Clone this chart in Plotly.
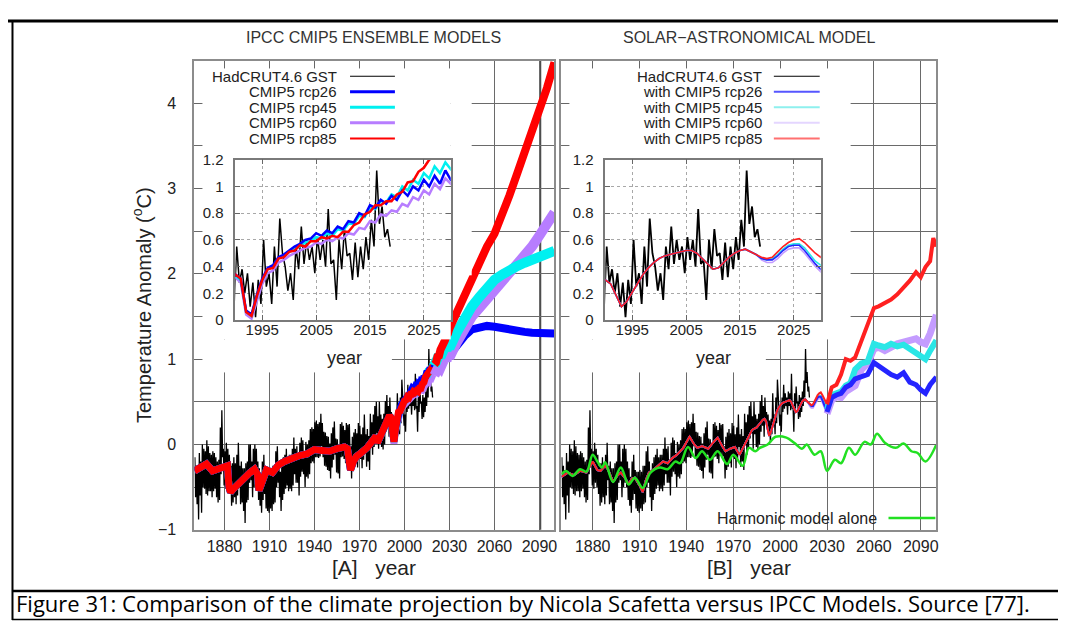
import plotly.graph_objects as go

W, H = 1066, 622
FONT = "Liberation Sans, Arial, sans-serif"

# ---------------- data ----------------
# HadCRUT4.6 monthly spread, read as a high and a low value per year
had_years = list(range(1860, 2019))
had_hi = [-0.15, -0.25, -0.30, -0.10, -0.20, 0.00, -0.05, -0.08, 0.05, -0.02,
          -0.10, -0.12, -0.08, -0.10, -0.15, -0.20, -0.18, 0.20, 0.40, -0.05,
          -0.08, 0.02, -0.05, -0.12, -0.25, -0.22, -0.15, -0.22, -0.12, 0.02,
          -0.25, -0.20, -0.28, -0.28, -0.22, -0.20, 0.00, 0.00, -0.20, -0.05,
          0.00, -0.05, -0.20, -0.28, -0.38, -0.20, -0.12, -0.30, -0.32, -0.32,
          -0.30, -0.32, -0.25, -0.25, -0.08, -0.02, -0.20, -0.32, -0.22, -0.15,
          -0.12, -0.05, -0.15, -0.12, -0.12, -0.05, 0.08, -0.05, -0.02, -0.18,
          0.02, 0.08, 0.05, -0.10, 0.03, 0.00, 0.05, 0.18, 0.20, 0.18,
          0.26, 0.28, 0.24, 0.26, 0.36, 0.25, 0.15, 0.14, 0.10, 0.09,
          0.01, 0.13, 0.20, 0.27, 0.07, 0.06, 0.00, 0.24, 0.26, 0.22,
          0.17, 0.25, 0.23, 0.24, -0.02, 0.09, 0.14, 0.18, 0.13, 0.25,
          0.22, 0.12, 0.20, 0.35, 0.12, 0.18, 0.10, 0.36, 0.26, 0.35,
          0.45, 0.50, 0.33, 0.50, 0.35, 0.30, 0.36, 0.51, 0.58, 0.45,
          0.55, 0.38, 0.35, 0.28, 0.30, 0.60, 0.35, 0.55, 0.76, 0.40,
          0.35, 0.55, 0.70, 0.60, 0.55, 0.62, 0.60, 0.83, 0.45, 0.60,
          0.68, 0.50, 0.58, 0.55, 0.62, 0.75, 1.12, 0.85, 0.68]
had_lo = [-0.62, -0.70, -0.88, -0.60, -0.80, -0.50, -0.52, -0.58, -0.60, -0.55,
          -0.55, -0.62, -0.55, -0.52, -0.62, -0.68, -0.65, -0.35, -0.15, -0.48,
          -0.52, -0.45, -0.50, -0.58, -0.72, -0.68, -0.62, -0.70, -0.60, -0.42,
          -0.70, -0.68, -0.78, -0.92, -0.68, -0.65, -0.45, -0.42, -0.62, -0.50,
          -0.45, -0.50, -0.65, -0.72, -0.80, -0.65, -0.58, -0.75, -0.78, -0.80,
          -0.75, -0.78, -0.70, -0.68, -0.50, -0.45, -0.62, -0.78, -0.65, -0.58,
          -0.52, -0.48, -0.55, -0.52, -0.55, -0.48, -0.35, -0.45, -0.45, -0.60,
          -0.38, -0.32, -0.35, -0.50, -0.38, -0.40, -0.35, -0.22, -0.20, -0.22,
          -0.15, -0.15, -0.16, -0.14, -0.02, -0.15, -0.25, -0.26, -0.30, -0.31,
          -0.40, -0.27, -0.18, -0.12, -0.33, -0.34, -0.40, -0.15, -0.14, -0.17,
          -0.22, -0.13, -0.15, -0.14, -0.40, -0.30, -0.26, -0.22, -0.27, -0.14,
          -0.17, -0.28, -0.18, -0.03, -0.26, -0.20, -0.30, 0.00, -0.12, -0.03,
          0.07, 0.13, -0.05, 0.12, -0.03, -0.06, 0.00, 0.15, 0.22, 0.09,
          0.28, 0.20, 0.10, 0.02, 0.12, 0.25, 0.12, 0.25, 0.50, 0.22,
          0.15, 0.38, 0.42, 0.45, 0.35, 0.45, 0.40, 0.42, 0.15, 0.38,
          0.48, 0.30, 0.32, 0.38, 0.45, 0.55, 0.72, 0.62, 0.55]

# IPCC CMIP5 ensemble means (panel A)
cmip_hist_years = [1860, 1864, 1868, 1872, 1876, 1880, 1882, 1883, 1884, 1886,
                   1888, 1891, 1894, 1897, 1900, 1902, 1903, 1905, 1908, 1912,
                   1916, 1920, 1925, 1930, 1935, 1940, 1945, 1950, 1955, 1960,
                   1962, 1963, 1964, 1966, 1968, 1971, 1975, 1979, 1981, 1982,
                   1983, 1985, 1987, 1989]
cmip_hist_vals = [-0.31, -0.27, -0.23, -0.31, -0.28, -0.26, -0.25, -0.50, -0.56, -0.52,
                  -0.48, -0.44, -0.38, -0.33, -0.29, -0.35, -0.54, -0.42, -0.30, -0.33,
                  -0.24, -0.20, -0.16, -0.13, -0.11, -0.06, -0.07, -0.08, -0.05, -0.03,
                  -0.05, -0.24, -0.30, -0.20, -0.14, -0.10, -0.04, 0.05, 0.10, 0.02,
                  0.06, 0.14, 0.22, 0.28]
inset_years = list(range(1990, 2031))
rcp26_inset = [0.34, 0.31, 0.07, 0.04, 0.19, 0.31, 0.39, 0.41, 0.47, 0.49,
               0.52, 0.55, 0.57, 0.60, 0.61, 0.65, 0.63, 0.67, 0.65, 0.70,
               0.68, 0.74, 0.73, 0.80, 0.78, 0.86, 0.84, 0.90, 0.87, 0.93,
               0.90, 0.97, 0.93, 1.00, 0.97, 1.05, 1.00, 1.08, 1.02, 1.12, 1.05]
rcp45_inset = [0.33, 0.30, 0.06, 0.03, 0.18, 0.30, 0.38, 0.40, 0.46, 0.48,
               0.51, 0.53, 0.55, 0.58, 0.59, 0.62, 0.61, 0.65, 0.63, 0.68,
               0.67, 0.72, 0.72, 0.78, 0.77, 0.84, 0.83, 0.89, 0.88, 0.94,
               0.92, 1.00, 0.97, 1.05, 1.02, 1.10, 1.06, 1.15, 1.10, 1.18, 1.13]
rcp60_inset = [0.32, 0.28, 0.04, 0.01, 0.15, 0.27, 0.35, 0.37, 0.43, 0.45,
               0.48, 0.50, 0.52, 0.54, 0.55, 0.58, 0.57, 0.60, 0.59, 0.62,
               0.61, 0.65, 0.64, 0.69, 0.68, 0.74, 0.73, 0.79, 0.78, 0.82,
               0.81, 0.87, 0.85, 0.92, 0.90, 0.97, 0.94, 1.02, 0.98, 1.06, 1.02]
rcp85_inset = [0.34, 0.31, 0.06, 0.03, 0.18, 0.30, 0.38, 0.39, 0.46, 0.47,
               0.51, 0.52, 0.56, 0.55, 0.59, 0.59, 0.62, 0.61, 0.63, 0.62,
               0.66, 0.66, 0.71, 0.73, 0.79, 0.81, 0.86, 0.86, 0.89, 0.89,
               0.94, 0.96, 1.03, 1.04, 1.11, 1.14, 1.20, 1.22, 1.28, 1.30, 1.36]
cmip_fut_years = [2035, 2040, 2045, 2050, 2055, 2060, 2065, 2070, 2075, 2080, 2085, 2090, 2095, 2100]
rcp26_fut = [1.18, 1.27, 1.35, 1.38, 1.39, 1.38, 1.36, 1.35, 1.33, 1.32, 1.31, 1.31, 1.30, 1.30]
rcp45_fut = [1.32, 1.50, 1.62, 1.73, 1.84, 1.93, 1.99, 2.05, 2.09, 2.13, 2.17, 2.20, 2.23, 2.27]
rcp60_fut = [1.20, 1.36, 1.50, 1.60, 1.70, 1.80, 1.92, 2.02, 2.10, 2.20, 2.32, 2.45, 2.58, 2.72]
rcp85_fut = [1.55, 1.76, 1.96, 2.15, 2.32, 2.47, 2.68, 2.92, 3.17, 3.42, 3.66, 3.90, 4.18, 4.48]

# Solar-astronomical model (panel B)
sa_hist_years = [1860, 1864, 1868, 1872, 1876, 1880, 1883, 1885, 1888, 1890,
                 1893, 1896, 1898, 1901, 1903, 1905, 1907, 1910, 1912, 1914,
                 1916, 1920, 1925, 1928, 1931, 1934, 1938, 1942, 1945, 1947,
                 1950, 1954, 1957, 1960, 1963, 1965, 1968, 1971, 1974, 1978,
                 1982, 1985, 1987, 1989]
sa_hist_vals = [-0.38, -0.33, -0.36, -0.31, -0.33, -0.20, -0.30, -0.31, -0.25, -0.30,
                -0.44, -0.36, -0.33, -0.40, -0.47, -0.40, -0.39, -0.48, -0.56, -0.42,
                -0.33, -0.28, -0.20, -0.22, -0.16, -0.12, -0.04, 0.09, 0.00, -0.04,
                -0.02, -0.05, 0.02, 0.08, -0.02, -0.08, -0.05, -0.03, -0.12, 0.02,
                0.17, 0.20, 0.25, 0.29]
sa_common_1990_2018 = [0.30, 0.27, 0.18, 0.10, 0.14, 0.21, 0.28, 0.34, 0.39, 0.43,
                       0.46, 0.48, 0.49, 0.50, 0.51, 0.52, 0.52, 0.50, 0.46, 0.42,
                       0.38, 0.39, 0.43, 0.47, 0.50, 0.52, 0.53, 0.51, 0.49]
sa26_2019_2030 = [0.46, 0.45, 0.45, 0.48, 0.52, 0.55, 0.56, 0.56, 0.52, 0.47, 0.42, 0.38]
sa45_2019_2030 = [0.46, 0.45, 0.46, 0.49, 0.53, 0.56, 0.57, 0.57, 0.54, 0.49, 0.44, 0.41]
sa60_2019_2030 = [0.45, 0.43, 0.43, 0.46, 0.50, 0.53, 0.54, 0.54, 0.50, 0.45, 0.40, 0.36]
sa85_2019_2030 = [0.47, 0.46, 0.47, 0.51, 0.55, 0.58, 0.60, 0.61, 0.58, 0.54, 0.50, 0.47]
sa_fut_years = [2033, 2036, 2039, 2042, 2045, 2048, 2052, 2056, 2060, 2063,
                2067, 2071, 2075, 2079, 2083, 2087, 2090, 2093, 2096, 2098, 2100]
sa26_fut = [0.55, 0.58, 0.60, 0.67, 0.70, 0.77, 0.80, 0.82, 0.96, 0.92,
            0.86, 0.82, 0.79, 0.84, 0.73, 0.70, 0.64, 0.60, 0.70, 0.75, 0.79]
sa45_fut = [0.58, 0.60, 0.62, 0.69, 0.72, 0.88, 0.95, 0.97, 1.18, 1.16,
            1.14, 1.18, 1.15, 1.17, 1.12, 1.08, 1.05, 1.00, 1.10, 1.15, 1.22]
sa60_fut = [0.52, 0.56, 0.55, 0.62, 0.66, 0.69, 0.88, 0.95, 1.12, 1.14,
            1.10, 1.15, 1.18, 1.20, 1.22, 1.24, 1.20, 1.18, 1.30, 1.40, 1.52]
sa85_fut = [0.67, 0.70, 0.82, 1.00, 0.98, 1.02, 1.22, 1.40, 1.60, 1.62,
            1.66, 1.70, 1.76, 1.84, 1.92, 2.02, 1.96, 2.08, 2.15, 2.42, 2.32]
harm_years = [1860, 1863, 1867, 1872, 1876, 1880, 1883, 1886, 1888, 1893,
              1898, 1903, 1907, 1912, 1917, 1923, 1928, 1933, 1936, 1941,
              1946, 1950, 1955, 1960, 1966, 1970, 1976, 1980, 1984, 1987,
              1992, 1997, 2004, 2009, 2014, 2017, 2022, 2026, 2030, 2035,
              2039, 2044, 2048, 2054, 2058, 2062, 2067, 2074, 2079, 2084,
              2088, 2093, 2100]
harm_vals = [-0.35, -0.31, -0.37, -0.29, -0.32, -0.12, -0.20, -0.27, -0.21, -0.44,
             -0.27, -0.47, -0.39, -0.51, -0.33, -0.27, -0.29, -0.20, -0.22, -0.03,
             -0.16, -0.08, -0.18, -0.08, -0.23, -0.12, -0.25, -0.04, -0.08, -0.04,
             0.00, 0.09, 0.08, 0.02, -0.05, 0.00, -0.12, -0.08, -0.31, -0.18,
             -0.22, -0.04, -0.12, 0.03, 0.00, 0.125, 0.02, -0.04, 0.01, -0.08,
             -0.10, -0.20, 0.00]

legend_a = ["HadCRUT4.6 GST", "CMIP5 rcp26", "CMIP5 rcp45", "CMIP5 rcp60", "CMIP5 rcp85"]
legend_b = ["HadCRUT4.6 GST", "with CMIP5 rcp26", "with CMIP5 rcp45", "with CMIP5 rcp60", "with CMIP5 rcp85"]

# ---------------- helpers ----------------
def X(p):
    return p / W


def Y(p):
    return 1 - p / H


def dx(a, b):
    return [a / W, b / W]


def dy(top, bottom):
    return [1 - bottom / H, 1 - top / H]


fig = go.Figure()


def line(x, y, color, width, ax, shape="linear"):
    xa = "x" if ax == 1 else "x%d" % ax
    ya = "y" if ax == 1 else "y%d" % ax
    fig.add_trace(go.Scatter(x=x, y=y, mode="lines",
                             line=dict(color=color, width=width, shape=shape),
                             xaxis=xa, yaxis=ya, showlegend=False, hoverinfo="skip"))


# HadCRUT as an interleaved high/low series
had_x, had_y = [], []
for yr, hi, lo in zip(had_years, had_hi, had_lo):
    had_x += [yr + 0.25, yr + 0.75]
    had_y += [hi, lo]

# panel A series
yrs_a = cmip_hist_years + inset_years + cmip_fut_years
ser_a = {
    "rcp26": cmip_hist_vals + rcp26_inset + rcp26_fut,
    "rcp45": cmip_hist_vals + rcp45_inset + rcp45_fut,
    "rcp60": cmip_hist_vals + rcp60_inset + rcp60_fut,
    "rcp85": cmip_hist_vals + rcp85_inset + rcp85_fut,
}
col_a = {"rcp26": "#0000ff", "rcp45": "#00f0f0", "rcp60": "#b77dff", "rcp85": "#ff0000"}
# panel B series
yrs_b = sa_hist_years + inset_years + sa_fut_years
ser_b = {
    "rcp26": sa_hist_vals + sa_common_1990_2018 + sa26_2019_2030 + sa26_fut,
    "rcp45": sa_hist_vals + sa_common_1990_2018 + sa45_2019_2030 + sa45_fut,
    "rcp60": sa_hist_vals + sa_common_1990_2018 + sa60_2019_2030 + sa60_fut,
    "rcp85": sa_hist_vals + sa_common_1990_2018 + sa85_2019_2030 + sa85_fut,
}
col_b = {"rcp26": "#2424ff", "rcp45": "#2ae6e6", "rcp60": "#c49cff", "rcp85": "#ff2020"}


def part(years, vals, lo, hi):
    xs = [y for y in years if lo <= y <= hi]
    vs = [v for y, v in zip(years, vals) if lo <= y <= hi]
    return xs, vs


# ---- main panel A (x / y)
line(had_x, had_y, "black", 1.3, 1)
for k in ["rcp60", "rcp45", "rcp26", "rcp85"]:
    xs, vs = part(yrs_a, ser_a[k], 1800, 2020)
    line(xs, vs, col_a[k], 7, 1)
for k, w in [("rcp26", 8), ("rcp60", 10), ("rcp45", 10), ("rcp85", 8)]:
    xs, vs = part(yrs_a, ser_a[k], 2020, 2200)
    line(xs, vs, col_a[k], w, 1)

# ---- main panel B (x2 / y2)
line(had_x, had_y, "black", 1.3, 2)
for k in ["rcp60", "rcp45", "rcp26", "rcp85"]:
    xs, vs = part(yrs_b, ser_b[k], 1800, 2030)
    line(xs, vs, col_b[k], 2, 2)
for k, w in [("rcp60", 7), ("rcp45", 6), ("rcp26", 5), ("rcp85", 4)]:
    xs, vs = part(yrs_b, ser_b[k], 2030, 2200)
    line(xs, vs, col_b[k], w, 2)
line(harm_years, harm_vals, "#22e022", 2.5, 2, shape="spline")

# ---- opaque masks (key / inset canvases) : subplots 3..7
for ax in range(3, 8):
    fig.add_trace(go.Scatter(x=[], y=[], xaxis="x%d" % ax, yaxis="y%d" % ax,
                             showlegend=False, hoverinfo="skip"))

# ---- inset A (x8 / y8)
line(had_x, had_y, "black", 1.5, 8)
for k in ["rcp60", "rcp45", "rcp26", "rcp85"]:
    line(yrs_a, ser_a[k], col_a[k], 2.5, 8)

# ---- inset B (x9 / y9)
line(had_x, had_y, "black", 1.8, 9)
for k in ["rcp60", "rcp45", "rcp26", "rcp85"]:
    line(yrs_b, ser_b[k], col_b[k], 1.6, 9)

# ---------------- axes ----------------
GRID = "#6a6a6a"
tickfont = dict(family=FONT, size=16, color="#222")


def main_x(dom, anchor):
    return dict(domain=dom, anchor=anchor, range=[1860, 2100], tick0=1880, dtick=30,
                ticks="inside", ticklen=7, tickwidth=1, tickcolor="#666",
                showgrid=True, gridcolor=GRID, gridwidth=1, zeroline=False,
                showline=True, linecolor="#8c8c8c", linewidth=2, mirror="ticks",
                tickfont=tickfont, ticklabelstandoff=1)


def main_y(dom, anchor, labels):
    return dict(domain=dom, anchor=anchor, range=[-1, 4.5], tick0=0, dtick=1,
                minor=dict(dtick=0.5, showgrid=True, gridcolor=GRID, gridwidth=1, ticks=""),
                ticks="inside", ticklen=7, tickwidth=1, tickcolor="#666",
                showgrid=True, gridcolor=GRID, gridwidth=1, zeroline=False,
                showline=True, linecolor="#8c8c8c", linewidth=2, mirror="ticks",
                showticklabels=labels, tickfont=tickfont, ticklabelstandoff=13)


def inset_x(dom, anchor):
    return dict(domain=dom, anchor=anchor, range=[1990, 2030], tick0=1995, dtick=10,
                ticks="inside", ticklen=5, tickwidth=1, tickcolor="#666",
                showgrid=True, gridcolor="#a8a8a8", griddash="dot", gridwidth=1,
                zeroline=False, showline=True, linecolor="#7a7a7a", linewidth=1.5,
                mirror="ticks", tickfont=dict(family=FONT, size=15, color="#222"),
                ticklabelstandoff=-5)


def inset_y(dom, anchor):
    return dict(domain=dom, anchor=anchor, range=[0, 1.2], tick0=0, dtick=0.2,
                ticks="inside", ticklen=5, tickwidth=1, tickcolor="#666",
                showgrid=True, gridcolor="#a8a8a8", griddash="dot", gridwidth=1,
                zeroline=False, showline=True, linecolor="#7a7a7a", linewidth=1.5,
                mirror="ticks", tickfont=dict(family=FONT, size=15, color="#222"),
                ticklabelstandoff=7)


PY = dy(45, 528)
layout = dict(
    width=W, height=H, autosize=False,
    margin=dict(l=0, r=0, t=0, b=0),
    paper_bgcolor="white", plot_bgcolor="white",
    showlegend=False,
    xaxis=main_x(dx(187, 548), "y"), yaxis=main_y(PY, "x", True),
    xaxis2=main_x(dx(555, 931), "y2"), yaxis2=main_y(PY, "x2", False),
    xaxis8=inset_x(dx(228, 444), "y8"), yaxis8=inset_y(dy(147, 312), "x8"),
    xaxis9=inset_x(dx(599, 815), "y9"), yaxis9=inset_y(dy(147, 312), "x9"),
)
mask_boxes = {3: (195, 444, 53, 332), 4: (444, 465, 53, 266), 5: (195, 385, 332, 366),
              6: (563, 845, 53, 332), 7: (563, 760, 332, 366)}
for ax, (x0, x1, y0, y1) in mask_boxes.items():
    blank = dict(range=[0, 1], showgrid=False, zeroline=False, showticklabels=False,
                 showline=False, ticks="")
    layout["xaxis%d" % ax] = dict(blank, domain=dx(x0, x1), anchor="y%d" % ax)
    layout["yaxis%d" % ax] = dict(blank, domain=dy(y0, y1), anchor="x%d" % ax)
fig.update_layout(**layout)

# ---------------- text ----------------
ann = []


def text(x, y, s, size, color="#222", xanchor="center", angle=0, family=FONT):
    ann.append(dict(x=X(x), y=Y(y), xref="paper", yref="paper", text=s, showarrow=False,
                    xanchor=xanchor, yanchor="middle", textangle=angle,
                    font=dict(family=family, size=size, color=color)))


text(367, 21, "IPCC CMIP5 ENSEMBLE MODELS", 16, "#333")
text(743, 21, "SOLAR\u2212ASTRONOMICAL MODEL", 16, "#333")
text(134, 297, "Temperature Anomaly (<sup>o</sup>C)", 20, "#222", angle=-90)
text(367, 567, "[A]\u00a0\u00a0\u00a0year", 21, "#222")
text(743, 567, "[B]\u00a0\u00a0\u00a0year", 21, "#222")
text(337, 351, "year", 18, "#222")
text(707, 351, "year", 18, "#222")
text(873, 516, "Harmonic model alone", 16, "#222", xanchor="right")
text(6, 603, "Figure 31: Comparison of the climate projection by Nicola Scafetta versus IPCC Models. Source [77].",
     22, "black", xanchor="left", family="Open Sans, sans-serif")

shapes = []
sty_a = [("black", 1.2), ("#0000ff", 3), ("#00f0f0", 3), ("#b77dff", 3), ("#ff0000", 2)]
sty_b = [("black", 1.2), ("#5656ff", 2), ("#8ef0ee", 2), ("#e4d6ff", 2), ("#ff7070", 2)]
for i, (lab, (c, w)) in enumerate(zip(legend_a, sty_a)):
    yy = 61 + 16 * i
    text(332, yy, lab, 15, "#222", xanchor="right")
    shapes.append(dict(type="line", xref="paper", yref="paper", x0=X(343), x1=X(388),
                       y0=Y(yy), y1=Y(yy), line=dict(color=c, width=w)))
for i, (lab, (c, w)) in enumerate(zip(legend_b, sty_b)):
    yy = 61 + 16 * i
    text(758, yy, lab, 15, "#222", xanchor="right")
    shapes.append(dict(type="line", xref="paper", yref="paper", x0=X(768), x1=X(814),
                       y0=Y(yy), y1=Y(yy), line=dict(color=c, width=w)))
shapes.append(dict(type="line", xref="paper", yref="paper", x0=X(883), x1=X(930),
                   y0=Y(516), y1=Y(516), line=dict(color="#22e022", width=2.5)))
# extra marker line at 2090 in panel A
shapes.append(dict(type="line", xref="x", yref="y domain", x0=2090.8, x1=2090.8, y0=0, y1=1,
                   layer="below", line=dict(color="#444", width=1.2)))
# figure frame and caption box
frame = dict(type="line", xref="paper", yref="paper")
shapes += [
    dict(frame, x0=0, x1=1, y0=Y(4), y1=Y(4), line=dict(color="black", width=3)),
    dict(frame, x0=X(4.5), x1=X(4.5), y0=Y(3), y1=Y(621), line=dict(color="black", width=2)),
    dict(frame, x0=X(4), x1=1, y0=Y(591), y1=Y(591), line=dict(color="black", width=2.5)),
    dict(frame, x0=X(4), x1=X(1063), y0=Y(620.5), y1=Y(620.5), line=dict(color="black", width=1.5)),
    dict(frame, x0=X(1062.5), x1=X(1062.5), y0=Y(591), y1=Y(621), line=dict(color="black", width=1.5)),
]
fig.update_layout(annotations=ann, shapes=shapes)

fig.write_html("out.html")
